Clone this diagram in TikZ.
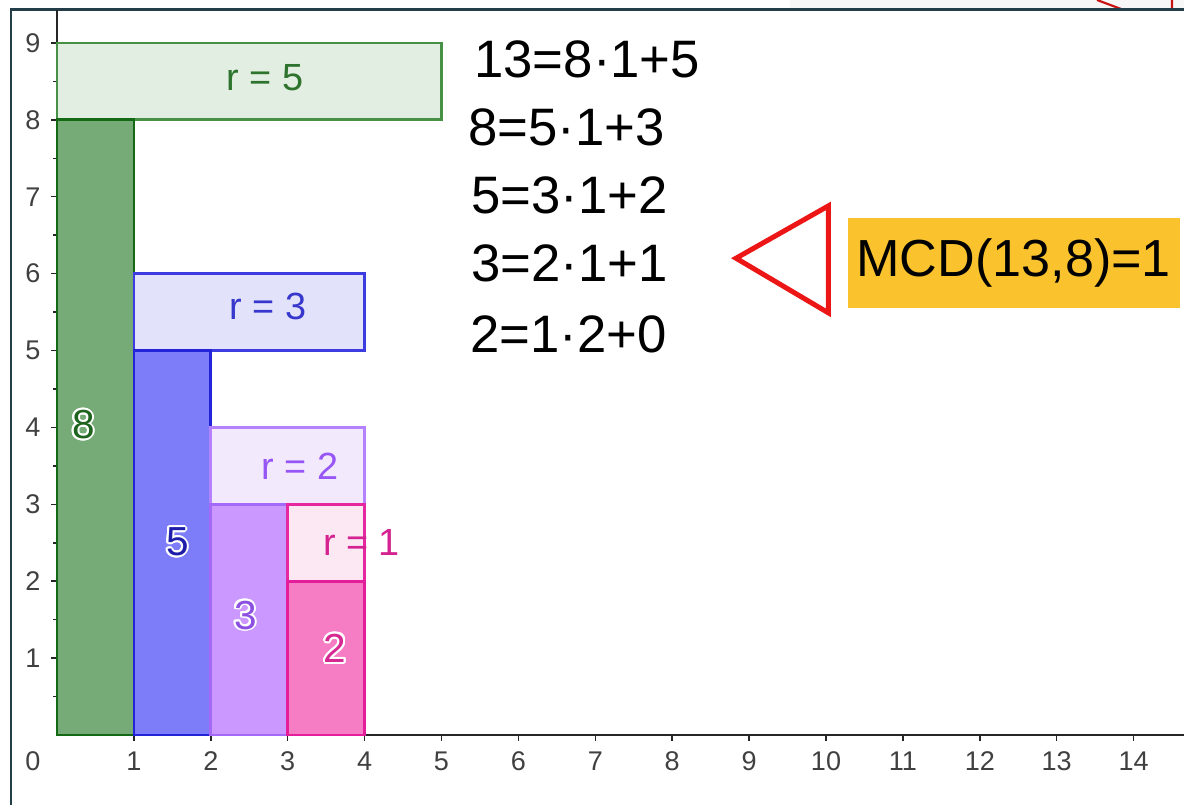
\documentclass[tikz,border=0pt]{standalone}
\usepackage{fontspec}
\setmainfont{Liberation Sans}
\usepackage{xcolor}
\usepackage{contour}
\contourlength{0.7pt}
\usepackage{tikz}
\definecolor{lineg}{RGB}{20,105,20}
\definecolor{fillg}{RGB}{118,170,118}
\definecolor{boxg}{RGB}{70,145,70}
\definecolor{lightg}{RGB}{225,238,225}
\definecolor{textg}{RGB}{45,115,45}
\definecolor{digg}{RGB}{30,100,30}
\definecolor{lineb}{RGB}{35,35,215}
\definecolor{fillb}{RGB}{125,125,250}
\definecolor{boxb}{RGB}{60,60,225}
\definecolor{lightb}{RGB}{226,226,250}
\definecolor{textb}{RGB}{55,55,205}
\definecolor{digb}{RGB}{30,30,170}
\definecolor{linep}{RGB}{165,105,250}
\definecolor{fillp}{RGB}{202,152,255}
\definecolor{boxp}{RGB}{180,130,255}
\definecolor{lightp}{RGB}{243,233,253}
\definecolor{textp}{RGB}{150,85,245}
\definecolor{digp}{RGB}{140,80,225}
\definecolor{linem}{RGB}{228,30,155}
\definecolor{fillm}{RGB}{246,125,196}
\definecolor{boxm}{RGB}{230,40,160}
\definecolor{lightm}{RGB}{252,232,243}
\definecolor{textm}{RGB}{212,35,145}
\definecolor{digm}{RGB}{215,40,145}
\definecolor{framec}{RGB}{35,62,72}
\definecolor{mcdc}{RGB}{250,195,45}
\definecolor{tric}{RGB}{236,22,22}

\begin{document}
\begin{tikzpicture}[
    bar/.style={line width=1pt},
    axis/.style={black!85, line width=0.55pt},
    rlab/.style={font=\fontsize{14}{16}\selectfont, inner sep=0pt},
    hlab/.style={font=\fontsize{15}{17}\selectfont, inner sep=0pt},
    tlab/.style={font=\fontsize{10}{11}\selectfont, text=black!75, inner sep=0pt},
    eq/.style={font=\fontsize{19.5}{22}\selectfont, anchor=west, inner sep=0pt},
    result/.style={fill=mcdc, font=\fontsize{19.3}{22}\selectfont,
      minimum width=4.32cm, minimum height=1.17cm, inner sep=0pt}]
  \useasboundingbox (-0.741,-0.910) rectangle (14.655,9.558);
  \fill[gray!6] (9.53,9.434) rectangle (14.655,9.558);
  \draw[tric!85!black, line width=0.8pt] (13.524,9.558) -- (13.836,9.441)
    (14.499,9.558) -- (14.499,9.441);
  \draw[framec, line width=0.8pt] (-0.598,-0.910) -- (-0.598,9.434) -- (14.655,9.434);
  \draw[axis] (0,0) -- (14.655,0);
  \draw[axis] (0,0) -- (0,9.434);
  \foreach \i in {1,...,9} {
    \draw[axis] (0,\i) -- (-0.08,\i);
    \node[tlab] (yl\i) at (-0.312,\i) {\i};
  }
  \foreach \i in {0.5,1.5,...,8.5}
    \draw[axis] (0,\i) -- (-0.05,\i);
  \foreach \i in {1,...,14} {
    \draw[axis] (\i,0) -- (\i,-0.08);
    \node[tlab] (xl\i) at (\i,-0.34) {\i};
  }
  \node[tlab] (xl0) at (-0.312,-0.34) {0};
  \foreach \x/\h/\r/\c in {0/8/5/g, 1/5/3/b, 2/3/2/p, 3/2/1/m} {
    \draw[bar, draw=box\c, fill=light\c] (\x,\h) rectangle ({\x+\r},{\h+1});
    \draw[bar, draw=line\c, fill=fill\c] (\x,0) rectangle ({\x+1},\h);
  }
  \foreach \h/\r/\c/\rx/\ry/\nx/\ny in {
      8/5/g/2.705/8.549/0.345/4.025,
      5/3/b/2.744/5.579/1.567/2.503,
      3/2/p/3.160/3.498/2.451/1.547,
      2/1/m/3.960/2.503/3.615/1.118} {
    \node[rlab, text=text\c] (r\r) at (\rx,\ry) {r = \r};
    \node[hlab, text=dig\c] (h\h) at (\nx,\ny) {\contour{white}{\h}};
  }
  \foreach \e/\x/\y [count=\i] in {
      13=8·1+5/5.42/8.784,
      8=5·1+3/5.34/7.900,
      5=3·1+2/5.38/7.022,
      3=2·1+1/5.38/6.138,
      2=1·2+0/5.37/5.215}
    \node[eq] (eq\i) at (\x,\y) {\e};
  \draw[tric, line width=1.85pt, line join=miter] (8.83,6.20) -- (10.03,6.88)
    -- (10.03,5.49) -- cycle;
  \node[result] (mcd) at (12.44,6.14) {MCD(13,8)=1};
\end{tikzpicture}
\end{document}
